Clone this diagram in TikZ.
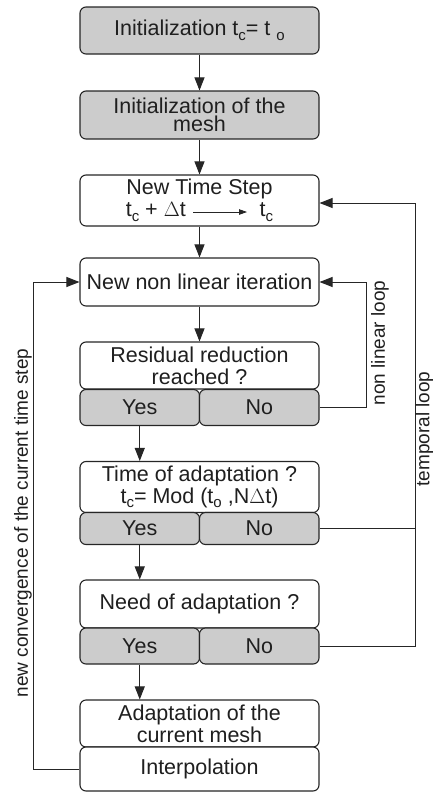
\documentclass[tikz,border=0pt]{standalone}
\usepackage{fontspec}
\setmainfont{Liberation Sans}
\usetikzlibrary{arrows.meta}
\newcommand\lowsub[1]{\raisebox{-0.4ex}{\fontsize{15}{15}\selectfont #1}}
\begin{document}
\begin{tikzpicture}[x=1pt,y=-1pt,
  box/.style={draw=black!85, line width=1.1pt, rounded corners=6pt,
    minimum width=239pt, inner sep=0pt, align=center,
    font=\fontsize{21.5}{22}\selectfont, fill=white, text=black!88},
  grey/.style={box, fill=gray!40},
  half/.style={grey, minimum width=119.5pt},
  conn/.style={line width=1pt, draw=black!85},
  arr/.style={conn, -{Triangle[length=13pt,width=10pt]}},
  lbl/.style={font=\fontsize{19}{19}\selectfont, inner sep=0pt, text=black!88}]
\useasboundingbox (0,0) rectangle (433,793);

% boxes
\node[grey, minimum height=47pt] (b1) at (199.5,30.5) {Initialization t\lowsub{c}= t \lowsub{o}};
\node[grey, minimum height=48pt, font=\fontsize{21.5}{17.5}\selectfont] (b2) at (199.5,115) {Initialization of the\\mesh};
\node[box, minimum height=51pt] (b3) at (199.5,200.5) {New Time Step\\t\lowsub{c} + $\Delta$t\hspace{74pt}t\lowsub{c}};
\node[box, minimum height=48pt] (b4) at (199.5,282) {New non linear iteration};
\node[box, minimum height=47pt] (b5) at (199.5,365.5) {Residual reduction\\reached ?};
\node[half, minimum height=36pt] (b5y) at (139.75,407.5) {Yes};
\node[half, minimum height=36pt] (b5n) at (259.25,407.5) {No};
\node[box, minimum height=51pt] (b6) at (199.5,487) {Time of adaptation ?\\t\lowsub{c}= Mod (t\lowsub{o} ,N$\Delta$t)};
\node[half, minimum height=32pt] (b6y) at (139.75,528.5) {Yes};
\node[half, minimum height=32pt] (b6n) at (259.25,528.5) {No};
\node[box, minimum height=48pt] (b7) at (199.5,604) {Need of adaptation ?};
\node[half, minimum height=36pt] (b7y) at (139.75,646) {Yes};
\node[half, minimum height=36pt] (b7n) at (259.25,646) {No};
\node[box, minimum height=47pt] (b8) at (199.5,723.5) {Adaptation of the\\current mesh};
\node[box, minimum height=44pt] (b9) at (199.5,769) {Interpolation};

% small arrow inside the time step box
\draw[conn, line width=0.8pt, -{Triangle[length=8pt,width=5.5pt]}]
  ([xshift=-6.5pt,yshift=-11.5pt]b3.center) -- ([xshift=47.5pt,yshift=-11.5pt]b3.center);

% main flow
\draw[arr] (b1) -- (b2);
\draw[arr] (b2) -- (b3);
\draw[arr] (b3) -- (b4);
\draw[arr] (b4) -- (b5);
\draw[arr] (b5y.south) -- (b5y.south |- b6.north);
\draw[arr] (b6y.south) -- (b6y.south |- b7.north);
\draw[arr] (b7y.south) -- (b7y.south |- b8.north);

% loops
\coordinate (lc) at (33,769);
\coordinate (nl) at (366,407.5);
\coordinate (tl) at (415,646);
\draw[arr] (b9.west) -- (lc) |- (b4.west);
\draw[arr] (b5n.east) -- (nl) |- (b4.east);
\draw[arr] (b7n.east) -- (tl) |- ([yshift=-2.5pt]b3.east);
\draw[conn] (b6n.east) -- (tl |- b6n.east);

% loop labels
\node[lbl, rotate=90] (lnl) at (380,343) {non linear loop};
\node[lbl, rotate=90] (ltl) at (424.5,429) {temporal loop};
\node[lbl, rotate=90] (lcv) at (23,523) {new convergence of the current time step};
\end{tikzpicture}
\end{document}
